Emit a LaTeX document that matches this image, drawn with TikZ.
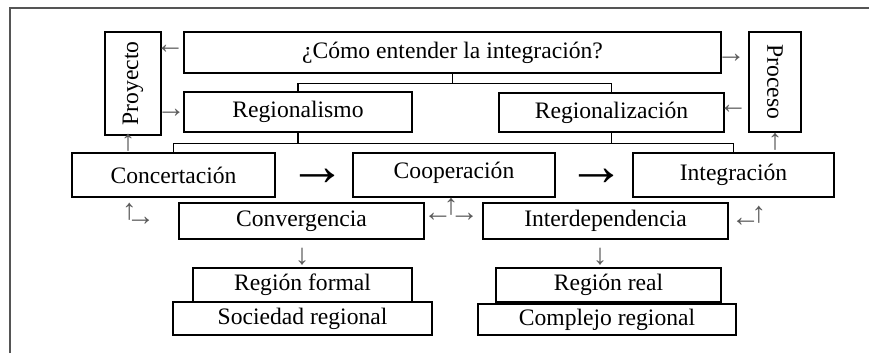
\documentclass[tikz,border=0pt]{standalone}
\usepackage{fontspec}
\setmainfont{Liberation Serif}
\usetikzlibrary{calc,positioning}
\definecolor{marco}{HTML}{555555}
\definecolor{flecha}{HTML}{5A5A5A}
% glifo centrado en el eje y subido o bajado
\newcommand{\flcentro}[2]{\raisebox{#1}{$\vcenter{\hbox{#2}}$}}

\begin{document}
\begin{tikzpicture}[x=1pt,y=-1pt,
        caja/.style={draw, line width=1.2pt, inner sep=0pt, font=\fontsize{23.6}{27}\selectfont},
        rama/.style={line width=1.2pt},
        flechita/.style={text=flecha, inner sep=0pt, font=\fontsize{29}{29}\selectfont},
        flechota/.style={inner sep=0pt, font=\fontsize{58}{58}\selectfont}]
        \useasboundingbox (0,0) rectangle (869,353);

        % Marco
        \draw[marco, line width=1.8pt] (10,353) -- (10,8) -- (869,8);

        % Cajas
        \foreach \nombre/\x/\y/\w/\h/\texto in {
            titulo/452.5/52.5/537/41/¿Cómo entender la integración?,
            regmo/298/112/228/40/Regionalismo,
            regcion/611.5/112.5/225/39/Regionalización,
            conc/173.5/175/203/44/Concertación,
            integ/733.5/175/201/44/Integración,
            conv/301.5/221/245/36/Convergencia,
            inter/605.5/221/245/36/Interdependencia,
            rform/302.5/285/219/34/Región formal,
            socreg/302.5/318.5/259/33/Sociedad regional,
            rreal/608.5/285/225/34/Región real,
            compreg/607/319.5/258/31/Complejo regional
        } {
            \node[caja, minimum width=\w pt, minimum height=\h pt] (\nombre) at (\x,\y) {\texto};
        }
        \node[caja, minimum width=202pt, minimum height=44pt, text depth=9pt] (coop) at (454,175) {Cooperación};
        \node[caja, rotate=90, minimum width=103pt, minimum height=56pt] (proy) at (133,83.5) {Proyecto};
        \node[caja, rotate=-90, minimum width=100pt, minimum height=52pt] (proc) at (775,82) {Proceso};

        % Ramas
        \coordinate (t1) at ($(titulo.south)+(0,10)$);
        \coordinate (t2) at ($(titulo.south)+(0,70)$);
        \draw[rama] (titulo.south) -- (t1);
        \draw[rama] (regmo.north) |- (t1) -| (regcion.north);
        \draw[rama] (regmo.south) -- (regmo.south |- t2);
        \draw[rama] (regcion.south) -- (regcion.south |- t2);
        \draw[rama] (conc.north) |- (t2) -| (integ.north);

        % Flechas sueltas
        \foreach \nombre/\x/\y/\g in {
            fa/170/49/←, fb/171/113/→, fc/128/143/↑,
            fd/731/58/→, fe/733/109/←, ff/775/142/↑,
            fn/302/257/↓, fo/600/257/↓
        } {
            \node[flechita] (\nombre) at (\x,\y) {\g};
        }
        \node[flechita] (fconc) at (138.5,215.25)
            {\flcentro{4.75pt}{↑}\kern-10.5pt\flcentro{-4.75pt}{→}};
        \node[flechita] (fcoop) at (451,211)
            {\flcentro{-5pt}{←}\kern-8.5pt\flcentro{5pt}{↑}\kern-8.5pt\flcentro{-5pt}{→}};
        \node[flechita] (finteg) at (748.5,217.5)
            {\flcentro{-3.5pt}{←}\kern-8.5pt\flcentro{3.5pt}{↑}};
        \node[flechota] (funo) at (317,177) {→};
        \node[flechota] (fdos) at (596,177) {→};
\end{tikzpicture}
\end{document}
